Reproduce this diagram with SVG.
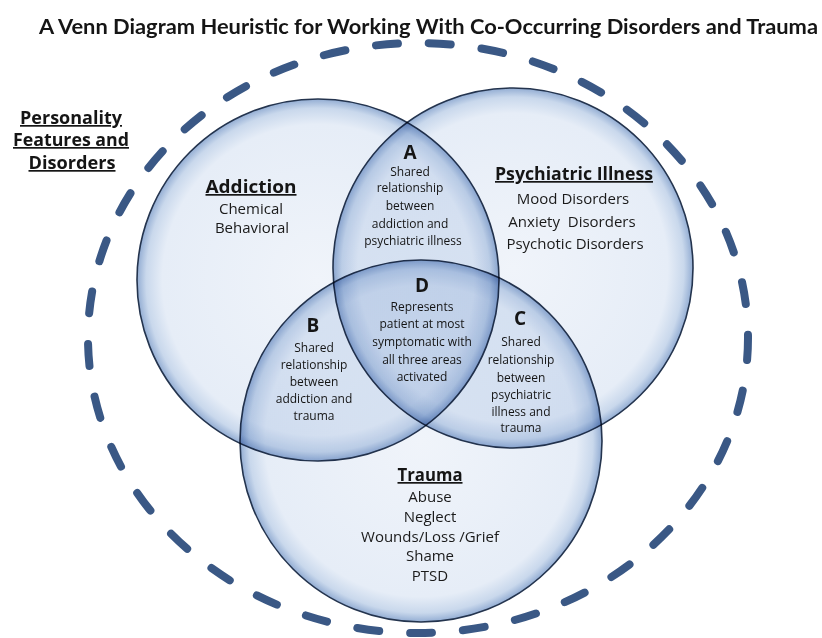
<svg xmlns="http://www.w3.org/2000/svg" width="822" height="638" viewBox="0 0 822 638">
<defs>
<radialGradient id="disc" cx="50%" cy="50%" r="50%">
<stop offset="0" stop-color="#f0f4fa"/>
<stop offset="0.86" stop-color="#e6edf7"/>
<stop offset="0.95" stop-color="#c9d8ec"/>
<stop offset="1" stop-color="#93add3"/>
</radialGradient>
</defs>
<style>
.set{fill:url(#disc);stroke:#24344e;stroke-width:1.6;mix-blend-mode:multiply}
.outer{fill:none;stroke:#3a5885;stroke-width:8;stroke-dasharray:22 31;stroke-linecap:round}
.title{font-family:Lato,"Liberation Sans",sans-serif;font-weight:bold;font-size:21px;fill:#151515}
.head{font-family:"Open Sans","Liberation Sans",sans-serif;font-weight:bold;font-size:17px;fill:#151515;text-anchor:middle;text-decoration:underline}
.item{font-family:"Open Sans","Liberation Sans",sans-serif;font-size:15px;fill:#1a1a1a;text-anchor:middle}
.letter{font-family:"Open Sans","Liberation Sans",sans-serif;font-weight:bold;font-size:19px;fill:#151515;text-anchor:middle}
.small{font-family:"Open Sans","Liberation Sans",sans-serif;font-size:12px;fill:#141414;text-anchor:middle}
</style>
<rect width="822" height="638" fill="#ffffff"/>
<text class="title" x="39" y="34" textLength="779" lengthAdjust="spacingAndGlyphs">A Venn Diagram Heuristic for Working With Co-Occurring Disorders and Trauma</text>
<g id="personality">
<ellipse class="outer" cx="418" cy="338" rx="330" ry="295"/>
<text class="head" x="71" y="124" textLength="102" lengthAdjust="spacingAndGlyphs">Personality</text>
<text class="head" x="71" y="146" textLength="116" lengthAdjust="spacingAndGlyphs">Features and</text>
<text class="head" x="72" y="169" textLength="87" lengthAdjust="spacingAndGlyphs">Disorders</text>
</g>
<g id="addiction">
<circle class="set" cx="318" cy="280" r="181"/>
</g>
<g id="psychiatric">
<circle class="set" cx="513" cy="268" r="180"/>
</g>
<g id="trauma">
<circle class="set" cx="421" cy="441" r="181"/>
</g>
<g id="connectors"/>
<g id="addiction-label">
<text class="head" x="251" y="193" textLength="91" lengthAdjust="spacingAndGlyphs">Addiction</text>
<text class="item" x="251" y="214">Chemical</text>
<text class="item" x="252" y="233">Behavioral</text>
</g>
<g id="psychiatric-label">
<text class="head" x="574" y="180" textLength="158" lengthAdjust="spacingAndGlyphs">Psychiatric Illness</text>
<text class="item" x="573" y="204">Mood Disorders</text>
<text class="item" x="572" y="227" xml:space="preserve">Anxiety  Disorders</text>
<text class="item" x="575" y="249">Psychotic Disorders</text>
</g>
<g id="trauma-label">
<text class="head" x="430" y="481" textLength="65" lengthAdjust="spacingAndGlyphs">Trauma</text>
<text class="item" x="430" y="502">Abuse</text>
<text class="item" x="430" y="522">Neglect</text>
<text class="item" x="430" y="542">Wounds/Loss /Grief</text>
<text class="item" x="430" y="561">Shame</text>
<text class="item" x="430" y="581">PTSD</text>
</g>
<g id="region-A">
<text class="letter" x="410" y="159">A</text>
<text class="small" x="410" y="176">Shared</text>
<text class="small" x="410" y="192">relationship</text>
<text class="small" x="410" y="210">between</text>
<text class="small" x="410" y="228">addiction and</text>
<text class="small" x="413" y="245">psychiatric illness</text>
</g>
<g id="region-B">
<text class="letter" x="313" y="332">B</text>
<text class="small" x="314" y="352">Shared</text>
<text class="small" x="314" y="369">relationship</text>
<text class="small" x="314" y="386">between</text>
<text class="small" x="314" y="403">addiction and</text>
<text class="small" x="314" y="420">trauma</text>
</g>
<g id="region-C">
<text class="letter" x="520" y="325">C</text>
<text class="small" x="521" y="346">Shared</text>
<text class="small" x="521" y="364">relationship</text>
<text class="small" x="521" y="382">between</text>
<text class="small" x="521" y="399">psychiatric</text>
<text class="small" x="521" y="416">illness and</text>
<text class="small" x="521" y="432">trauma</text>
</g>
<g id="region-D">
<text class="letter" x="422" y="292">D</text>
<text class="small" x="422" y="311">Represents</text>
<text class="small" x="422" y="328">patient at most</text>
<text class="small" x="422" y="346">symptomatic with</text>
<text class="small" x="422" y="364">all three areas</text>
<text class="small" x="422" y="381">activated</text>
</g>
</svg>
